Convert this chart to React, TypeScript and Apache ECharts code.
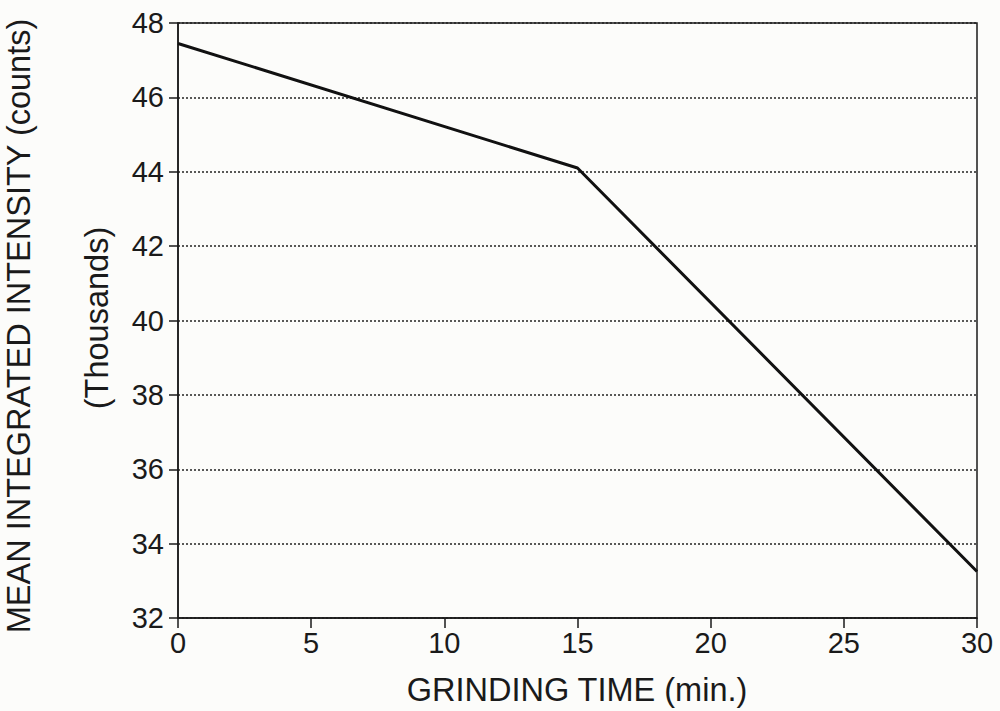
import React, { useEffect, useRef } from "react";
import * as echarts from "echarts";

const grindingTime = [0, 15, 30];
const intensity = [47.45, 44.1, 33.25];
const yTicks = [32, 34, 36, 38, 40, 42, 44, 46, 48];
const xTicks = [0, 5, 10, 15, 20, 25, 30];
const xTitle = "GRINDING TIME (min.)";
const yTitle1 = "MEAN INTEGRATED INTENSITY (counts)";
const yTitle2 = "(Thousands)";

const FONT = "'Liberation Sans', Arial, Helvetica, sans-serif";
const INK = "#1a1a1a";

export default function App() {
  const ref = useRef<HTMLDivElement>(null);
  useEffect(() => {
    if (!ref.current) return;
    const chart = echarts.init(ref.current, undefined, { renderer: "svg" });
    chart.setOption({
      animation: false,
      backgroundColor: "#fcfcfa",
      grid: {
        left: 178,
        right: 23,
        top: 23,
        bottom: 93,
        show: true,
        borderColor: INK,
        borderWidth: 1.5,
        backgroundColor: "transparent",
      },
      xAxis: {
        type: "value",
        min: xTicks[0],
        max: xTicks[xTicks.length - 1],
        interval: 5,
        axisLine: { show: true, lineStyle: { color: INK, width: 1.5 } },
        axisTick: { show: true, inside: false, length: 10, lineStyle: { color: INK, width: 1.5 } },
        axisLabel: { color: INK, fontSize: 29, fontFamily: FONT, margin: 10 },
        splitLine: { show: false },
      },
      yAxis: {
        type: "value",
        min: yTicks[0],
        max: yTicks[yTicks.length - 1],
        interval: 2,
        axisLine: { show: true, lineStyle: { color: INK, width: 1.5 } },
        axisTick: { show: true, inside: false, length: 9, lineStyle: { color: INK, width: 1.5 } },
        axisLabel: { color: INK, fontSize: 29, fontFamily: FONT, margin: 14 },
        splitLine: { show: true, lineStyle: { color: "#222", type: [2, 2], width: 1.5 } },
      },
      graphic: [
        {
          type: "text",
          x: 577,
          y: 690,
          style: {
            text: xTitle,
            fontSize: 32.5,
            fontFamily: FONT,
            fill: INK,
            align: "center",
            verticalAlign: "middle",
          },
        },
        {
          type: "text",
          x: 19,
          y: 326,
          rotation: Math.PI / 2,
          style: {
            text: yTitle1,
            fontSize: 32.5,
            fontFamily: FONT,
            fill: INK,
            align: "center",
            verticalAlign: "middle",
          },
        },
        {
          type: "text",
          x: 97,
          y: 318,
          rotation: Math.PI / 2,
          style: {
            text: yTitle2,
            fontSize: 32.5,
            fontFamily: FONT,
            fill: INK,
            align: "center",
            verticalAlign: "middle",
          },
        },
      ],
      series: [
        {
          type: "line",
          data: grindingTime.map((t, i) => [t, intensity[i]]),
          showSymbol: false,
          symbol: "none",
          smooth: false,
          lineStyle: { color: "#111", width: 3 },
        },
      ],
    });
    return () => chart.dispose();
  }, []);
  return (
    <div
      ref={ref}
      style={{ position: "fixed", left: 0, top: 0, width: 1000, height: 711 }}
    />
  );
}
